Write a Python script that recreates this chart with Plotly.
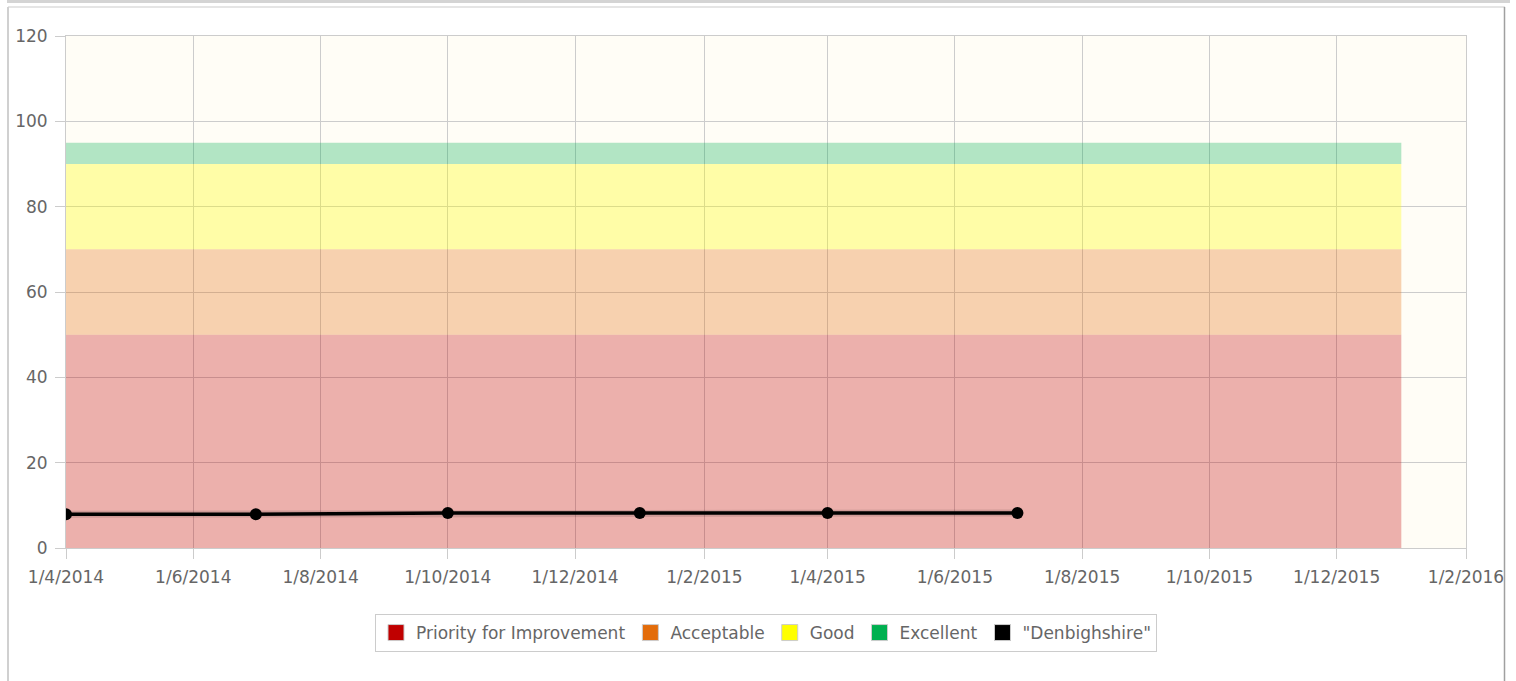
import plotly.graph_objects as go

# ---- data ----
band_x = ["2014-04-01", "2016-01-01"]
band_names = ["Priority for Improvement", "Acceptable", "Good", "Excellent"]
band_heights = [50, 20, 20, 5]          # stacked: 0-50, 50-70, 70-90, 90-95
band_solid = ["#C00000", "#E36C0A", "#FFFF00", "#00B050"]
band_fill = ["rgba(192,0,0,0.3)", "rgba(227,108,10,0.3)",
             "rgba(255,255,0,0.32)", "rgba(0,176,80,0.3)"]

series_name = '"Denbighshire"'
series_dates = ["2014-04-01", "2014-07-01", "2014-10-01",
                "2015-01-01", "2015-04-01", "2015-07-01"]
series_values = [7.9, 7.9, 8.2, 8.2, 8.2, 8.2]

W, H = 1516, 681
L, R, T, B = 66, 50, 36, 133
PW, PH = W - L - R, H - T - B

fig = go.Figure()

for name, h, fc in zip(band_names, band_heights, band_fill):
    fig.add_trace(go.Scatter(
        x=band_x, y=[h] * len(band_x), mode="lines", stackgroup="bands",
        line=dict(width=0), fillcolor=fc, name=name, showlegend=False,
        hoverinfo="skip"))

# soft shadow under the series line
fig.add_trace(go.Scatter(
    x=series_dates, y=series_values, mode="lines",
    line=dict(color="rgba(0,0,0,0.12)", width=7),
    showlegend=False, hoverinfo="skip"))

fig.add_trace(go.Scatter(
    x=series_dates, y=series_values, mode="lines+markers",
    line=dict(color="#000000", width=3.5),
    marker=dict(color="#000000", size=12),
    name=series_name, showlegend=False))

# legend entries (solid squares)
for name, c in zip(band_names + [series_name], band_solid + ["#000000"]):
    fig.add_trace(go.Scatter(
        x=[None], y=[None], mode="markers", name=name,
        marker=dict(symbol="square", size=16, color=c,
                    line=dict(color="#cccccc", width=1))))

def px(x):
    return (x - L) / PW

def py(y):
    return (H - B - y) / PH

shapes = [
    dict(type="rect", xref="paper", yref="paper", x0=px(7), x1=px(1510),
         y0=py(0), y1=py(3), fillcolor="#d4d4d4", line=dict(width=0)),
    dict(type="line", xref="paper", yref="paper", x0=px(8), x1=px(1505),
         y0=py(7), y1=py(7), line=dict(color="#dddddd", width=1.5)),
    dict(type="line", xref="paper", yref="paper", x0=px(8), x1=px(8),
         y0=py(7), y1=py(681), line=dict(color="#d0d0d0", width=2)),
    dict(type="line", xref="paper", yref="paper", x0=px(1504.5), x1=px(1504.5),
         y0=py(7), y1=py(681), line=dict(color="#a0a0a0", width=1.5)),
]

font_family = "DejaVu Sans"
fig.update_layout(
    width=W, height=H,
    margin=dict(l=L, r=R, t=T, b=B, pad=0),
    paper_bgcolor="#ffffff", plot_bgcolor="#FFFDF6",
    font=dict(family=font_family, size=17, color="#666666"),
    shapes=shapes,
    showlegend=True,
    legend=dict(orientation="h", x=0.5, xanchor="center",
                y=py(614), yanchor="top", traceorder="normal",
                bordercolor="#cccccc", borderwidth=1,
                font=dict(size=17, color="#666666"),
                itemwidth=30, tracegroupgap=0, bgcolor="#ffffff"),
    xaxis=dict(type="date", range=["2014-04-01", "2016-02-01"],
               tick0="2014-04-01", dtick="M2", tickformat="%-d/%-m/%Y",
               showgrid=True, gridcolor="#cccccc", gridwidth=1,
               showline=True, linecolor="#cccccc", linewidth=1, mirror=True,
               ticks="outside", ticklen=10, tickcolor="#cccccc",
               ticklabelstandoff=4,
               tickfont=dict(size=17, color="#666666"), zeroline=False,
               fixedrange=True),
    yaxis=dict(range=[0, 120], dtick=20, tick0=0,
               showgrid=True, gridcolor="#cccccc", gridwidth=1,
               showline=True, linecolor="#cccccc", linewidth=1, mirror=True,
               ticks="outside", ticklen=10, tickcolor="#cccccc",
               ticklabelstandoff=4,
               tickfont=dict(size=17, color="#666666"), zeroline=False,
               fixedrange=True),
)

fig.write_html("out.html",
               config={"displayModeBar": False},
               post_script="document.body.style.margin='0';"
                           "document.body.style.overflow='hidden';")
